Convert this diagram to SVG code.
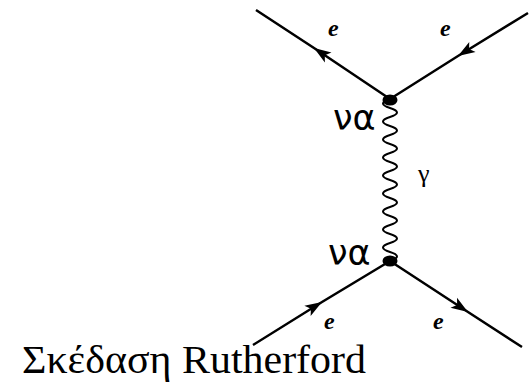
<svg xmlns="http://www.w3.org/2000/svg" width="529" height="382" viewBox="0 0 529 382">
<style>
.ln{fill:none;stroke:#000;stroke-width:2.5;marker-mid:url(#arr)}
.wv{fill:none;stroke:#000;stroke-width:2}
.sf{font-family:'Liberation Serif','Times New Roman',serif}
.e{font-style:italic;font-weight:bold;font-size:24px}
.cp{font-family:'DejaVu Sans',sans-serif;font-size:35px}
.g{font-size:26px}
.t{font-size:39px}
</style>
<defs>
<marker id="arr" markerUnits="userSpaceOnUse" markerWidth="18" markerHeight="13" refX="17" refY="6.5" orient="auto" overflow="visible">
<path d="M0,0.5 L17,6.5 L0,12.5 L4,6.5 z" fill="#000"/>
</marker>
</defs>
<g id="connectors">
<path class="ln" d="M390,99 L314,48 L256,10"/>
<path class="ln" d="M528,13 L458,56 L390,99"/>
<path class="ln" d="M253,345 L322,302 L390,261"/>
<path class="ln" d="M390,261 L468,312 L522,347"/>
<path class="wv" d="M390,99 q-14,4.5 0,9 t0,9 t0,9 t0,9 t0,9 t0,9 t0,9 t0,9 t0,9 t0,9 t0,9 t0,9 t0,9 t0,9 t0,9 t0,9 t0,9 t0,9"/>
</g>
<g id="vertex-top"><ellipse cx="390" cy="100" rx="7.5" ry="5.5"/></g>
<g id="vertex-bottom"><ellipse cx="390" cy="261" rx="7.5" ry="5.5"/></g>
<g id="labels">
<text class="sf e" x="328" y="36">e</text>
<text class="sf e" x="440" y="36">e</text>
<text class="sf e" x="324" y="329">e</text>
<text class="sf e" x="433" y="329">e</text>
<text class="sf g" x="418" y="182">γ</text>
<text class="cp" x="333" y="130">να</text>
<text class="cp" x="328" y="265">να</text>
</g>
<g id="title"><text class="sf t" x="22" y="373" textLength="344" lengthAdjust="spacingAndGlyphs">Σκέδαση Rutherford</text></g>
</svg>
